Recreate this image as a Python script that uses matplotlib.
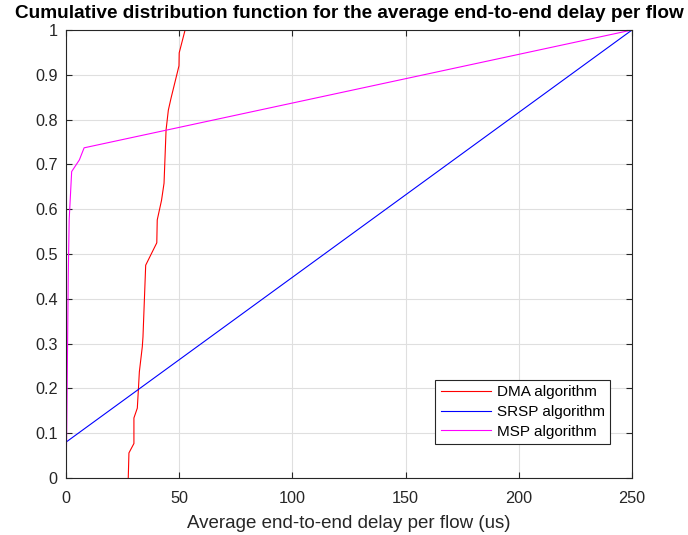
import numpy as np
import matplotlib
matplotlib.use("Agg")
import matplotlib.pyplot as plt

plt.rcParams['font.family'] = ['Liberation Sans', 'DejaVu Sans']

# CDF points (x: delay in us, y: cumulative probability)
dma_x = [27.5, 27.8, 30.0, 30.0, 31.5, 32.0, 32.4, 33.7, 34.0, 35.2, 40.1, 40.3,
         42.2, 43.3, 44.2, 45.2, 46.4, 49.9, 50.0, 52.6, 250.0]
dma_y = [0.0, 0.056, 0.077, 0.134, 0.156, 0.20, 0.237, 0.293, 0.315, 0.475, 0.525, 0.576,
         0.62, 0.658, 0.777, 0.821, 0.848, 0.92, 0.949, 1.0, 1.0]

srsp_x = [0.0, 250.0]
srsp_y = [0.08, 1.0]

msp_x = [0.0, 0.3, 0.7, 1.0, 1.4, 2.5, 5.9, 8.0, 250.0]
msp_y = [0.0, 0.10, 0.30, 0.45, 0.576, 0.684, 0.71, 0.737, 1.0]

labels = ['DMA algorithm', 'SRSP algorithm', 'MSP algorithm']

fig = plt.figure(figsize=(6.88, 5.35), dpi=100)
ax = fig.add_axes([66/688, 57/535, 566/688, 448/535])

ax.plot(dma_x, dma_y, color='#ff0000', lw=0.8, label=labels[0])
ax.plot(srsp_x, srsp_y, color='#0000ff', lw=0.8, label=labels[1])
ax.plot(msp_x, msp_y, color='#ff00ff', lw=0.8, label=labels[2])

ax.set_xlim(0, 250)
ax.set_ylim(0, 1)
ax.set_xticks(np.arange(0, 251, 50))
ax.set_yticks(np.arange(0, 1.01, 0.1))
ax.set_yticklabels(['0', '0.1', '0.2', '0.3', '0.4', '0.5', '0.6', '0.7', '0.8', '0.9', '1'])
ax.grid(True, color='#dfdfdf', lw=0.8)
ax.set_axisbelow(True)
ax.tick_params(direction='in', top=True, right=True, labelsize=11.7, colors='#262626',
               length=4.5, width=0.8)
ax.tick_params(axis='x', pad=9.5)
ax.tick_params(axis='y', pad=6)
for s in ax.spines.values():
    s.set_color('#262626')
    s.set_linewidth(0.8)

ax.set_xlabel('Average end-to-end delay per flow (us)', fontsize=13.5, color='#262626',
              labelpad=6)
ax.set_title('Cumulative distribution function for the average end-to-end delay per flow',
             fontsize=13.7, fontweight='bold', pad=9)

leg = ax.legend(loc='lower right', bbox_to_anchor=(0.961, 0.076), fontsize=11,
                fancybox=False, framealpha=1, edgecolor='#262626', handlelength=3.3,
                borderpad=0.35, labelspacing=0.37, handletextpad=0.35,
                borderaxespad=0)
leg.get_frame().set_linewidth(0.8)

fig.savefig('out.png', dpi=100)
